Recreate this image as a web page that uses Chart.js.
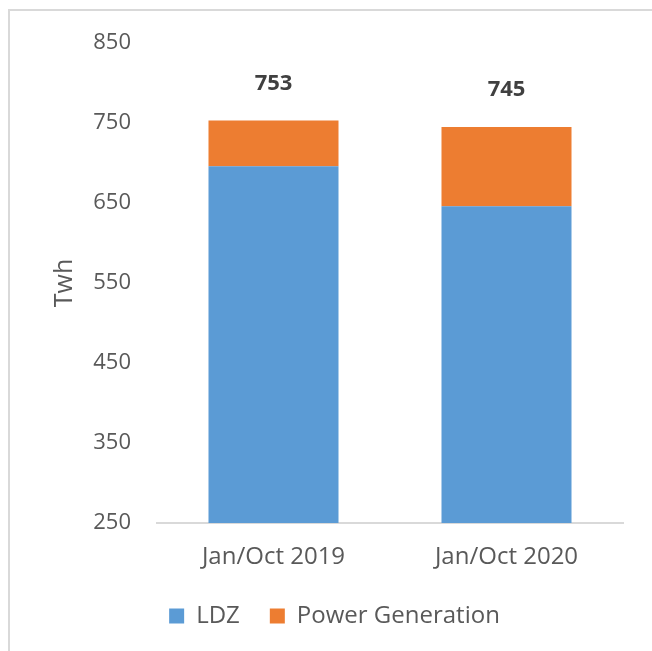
<!DOCTYPE html>
<html>
<head>
<meta charset="utf-8">
<script src="https://cdn.jsdelivr.net/npm/chart.js@4"></script>
<style>
  html, body { margin: 0; padding: 0; background: #fff; overflow: hidden; }
  #wrap { position: relative; width: 652px; height: 651px; }
  #frame { position: absolute; left: 8px; top: 9px; width: 700px; height: 700px; border: 2px solid #d9d9d9; box-sizing: border-box; }
  canvas { position: absolute; left: 0; top: 0; }
</style>
</head>
<body>
<div id="wrap">
  <div id="frame"></div>
  <canvas id="c" width="652" height="651"></canvas>
</div>
<script>
const categories = ["Jan/Oct 2019", "Jan/Oct 2020"];
const ldz = [696, 646];
const powerGeneration = [57, 99];
const totals = [753, 745];
const yTicks = [250, 350, 450, 550, 650, 750, 850];

Chart.defaults.font.family = "'Open Sans', sans-serif";
Chart.defaults.color = "#595959";

const totalLabels = {
  id: "totalLabels",
  afterDatasetsDraw(chart) {
    const ctx = chart.ctx;
    const x = chart.scales.x, y = chart.scales.y;
    ctx.save();
    ctx.font = "bold 22px 'Open Sans', sans-serif";
    ctx.fillStyle = "#404040";
    ctx.textAlign = "center";
    ctx.textBaseline = "middle";
    totals.forEach((t, i) => {
      ctx.fillText(String(t), x.getPixelForValue(i), y.getPixelForValue(t) - 37);
    });
    ctx.restore();
  }
};

new Chart(document.getElementById("c"), {
  type: "bar",
  data: {
    labels: categories,
    datasets: [
      { label: "LDZ", data: ldz, backgroundColor: "#5B9BD5", borderWidth: 0 },
      { label: "Power Generation", data: powerGeneration, backgroundColor: "#ED7D31", borderWidth: 0 }
    ]
  },
  options: {
    responsive: false,
    animation: false,
    devicePixelRatio: 1,
    layout: { padding: { left: 46, right: 29, top: 43, bottom: 13 } },
    datasets: { bar: { categoryPercentage: 0.558, barPercentage: 1 } },
    plugins: {
      tooltip: { enabled: false },
      legend: {
        position: "bottom",
        labels: {
          boxWidth: 15, boxHeight: 15, padding: 30,
          font: { size: 24 }, color: "#595959"
        }
      }
    },
    scales: {
      x: {
        stacked: true,
        grid: { display: false, drawTicks: false },
        border: { display: true, color: "#d9d9d9", width: 2 },
        ticks: { font: { size: 24 }, color: "#595959", padding: 20 },
        afterFit: (s) => { s.height = 51; }
      },
      y: {
        stacked: true,
        min: 250, max: 850,
        grid: { display: false, drawTicks: false },
        border: { display: false },
        afterBuildTicks: (s) => { s.ticks = yTicks.map(v => ({ value: v })); },
        ticks: { font: { size: 22 }, color: "#595959", padding: 26 },
        title: { display: true, text: "Twh", font: { size: 25 }, color: "#595959" },
        afterFit: (s) => { s.width = 111; }
      }
    }
  },
  plugins: [totalLabels]
});
</script>
</body>
</html>
